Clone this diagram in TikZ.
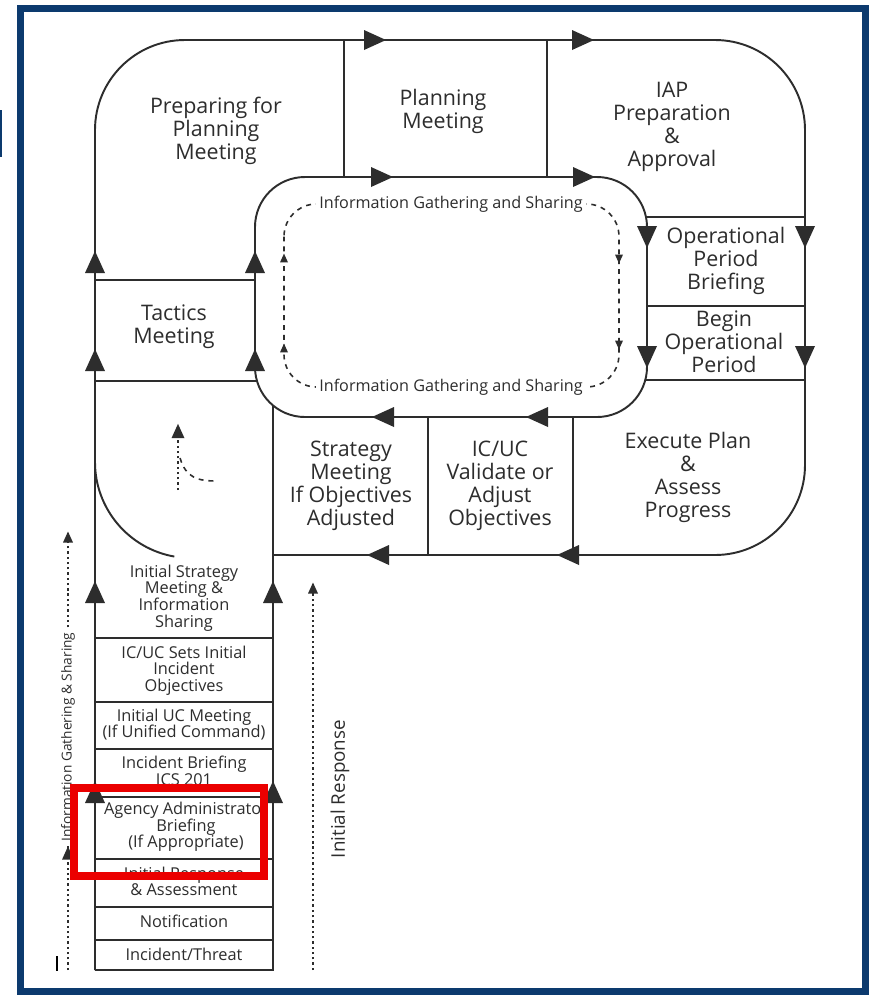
\documentclass[tikz,border=0pt]{standalone}
\usepackage{fontspec}
\setmainfont{Open Sans}
\usetikzlibrary{arrows.meta}
\definecolor{framecol}{RGB}{12,58,110}
\definecolor{linecol}{RGB}{45,45,45}
\definecolor{markred}{RGB}{235,0,0}
\tikzset{
  outline/.style={draw=linecol,line width=1.1pt},
  stagetext/.style={align=center,text=linecol,inner sep=0pt,font=\fontsize{12.2}{13.1}\selectfont},
  steptext/.style={align=center,text=linecol,inner sep=0pt,font=\fontsize{9.3}{9.5}\selectfont},
  infotext/.style={fill=white,text=linecol,inner sep=2pt,font=\fontsize{9.2}{10}\selectfont},
  dotline/.style={draw=linecol,line width=1pt,dash pattern=on 1.3pt off 1.7pt},
  dashline/.style={draw=linecol,line width=0.9pt,dash pattern=on 2.8pt off 2.8pt},
}
\newcommand{\bigtri}[3]{\fill[linecol,shift={(#1)},rotate=#2,scale=#3] (11,0) -- (-11,-10) -- (-11,10) -- cycle;}

\begin{document}
\begin{tikzpicture}[x=0.02cm,y=-0.02cm]
  \useasboundingbox (0,0) rectangle (869,995);
  \fill[white] (0,0) rectangle (869,995);

  % frame
  \draw[framecol,line width=4pt] (20.5,8.5) rectangle (865.5,991.5);
  \fill[framecol] (0,110) rectangle (2.5,157);
  \fill[black] (55.5,956) rectangle (58,971);

  % loop
  \draw[outline,rounded corners=1.8cm] (95,970) -- (95,40) -- (805,40) -- (805,555) -- (273,555);
  \draw[outline,rounded corners=1cm] (255,177) rectangle (647,417);
  \draw[outline] (273,405.4) -- (273,970) -- (95,970);
  \draw[outline] (344,40) -- (344,177) (547,40) -- (547,177);
  \draw[outline] (95,280) -- (255,280) (95,381) -- (256,381);
  \draw[outline] (647,217) -- (805,217) (647,306) -- (805,306) (646,380) -- (805,380);
  \draw[outline] (428,417) -- (428,555) (573,417) -- (573,555);
  \draw[outline] (95,462) arc[start angle=180,end angle=100,radius=96];
  \foreach \y in {638,702,749,797,859,907,940}
    \draw[outline] (95,\y) -- (273,\y);

  % arrowheads
  \foreach \p in {{375,40},{583,40},{382,177},{584,177}} \bigtri{\p}{0}{1};
  \foreach \p in {{647,237},{805,237},{647,357},{805,357}} \bigtri{\p}{270}{1};
  \foreach \p in {{383,417},{537,417},{378,555},{568,555}} \bigtri{\p}{180}{1};
  \foreach \p in {{95,262},{255,262},{95,360},{255,360},{95,592},{273,592},{95,792},{273,792}} \bigtri{\p}{90}{1};

  % information gathering
  \draw[dashline,rounded corners=0.65cm] (284,204) rectangle (619,387);
  \foreach \p in {{284,258},{284,348}} \bigtri{\p}{90}{0.4};
  \foreach \p in {{619,259},{619,345}} \bigtri{\p}{270}{0.4};
  \node[infotext] (infotop) at (451,204) {Information Gathering and Sharing};
  \node[infotext] (infobot) at (451,387) {Information Gathering and Sharing};

  \draw[dotline] (178,490) -- (178,436);
  \bigtri{178,431}{90}{0.65};
  \draw[dashline] (180,458) .. controls (186,478) and (198,481) .. (217,481);

  \draw[dotline] (68,970) -- (68,540);
  \bigtri{68,537}{90}{0.5};
  \bigtri{68,853}{90}{0.6};
  \node[infotext,rotate=90,font=\fontsize{7.8}{9}\selectfont] (sidenote) at (68,737) {Information Gathering \& Sharing};
  \draw[dotline] (313,970) -- (313,592);
  \bigtri{313,588}{90}{0.5};
  \node[stagetext,rotate=90,font=\fontsize{10.7}{12}\selectfont] (initresp) at (340,789) {Initial Response};

  % stages
  \node[stagetext] (prep) at (216,131) {Preparing for\\Planning\\Meeting};
  \node[stagetext] (plan) at (443,111.5) {Planning\\Meeting};
  \node[stagetext] (iap) at (672,127) {IAP\\Preparation\\\&\\Approval};
  \node[stagetext] (tactics) at (174,326.5) {Tactics\\Meeting};
  \node[stagetext] (opbrief) at (726,261) {Operational\\Period\\Briefing};
  \node[stagetext] (opbegin) at (724,342) {Begin\\Operational\\Period};
  \node[stagetext] (execute) at (688,477) {Execute Plan\\\&\\Assess\\Progress};
  \node[stagetext] (strategy) at (351,486) {Strategy\\Meeting\\If Objectives\\Adjusted};
  \node[stagetext] (validate) at (500,486) {IC/UC\\Validate or\\Adjust\\Objectives};

  % initial response steps
  \node[steptext] (s1) at (184,598) {Initial Strategy\\Meeting \&\\Information\\Sharing};
  \node[steptext] (s2) at (184,670.5) {IC/UC Sets Initial\\Incident\\Objectives};
  \node[steptext] (s3) at (184,724.5) {Initial UC Meeting\\(If Unified Command)};
  \node[steptext] (s4) at (184,771) {Incident Briefing\\ICS 201};
  \node[steptext] (s5) at (186,827) {Agency Administrator\\Briefing\\(If Appropriate)};
  \node[steptext] (s6) at (184,881.5) {Initial Response\\\& Assessment};
  \node[steptext] (s7) at (184,921) {Notification};
  \node[steptext] (s8) at (184,954) {Incident/Threat};

  \draw[markred,line width=4pt] (74,788) rectangle (264,876);
\end{tikzpicture}
\end{document}
